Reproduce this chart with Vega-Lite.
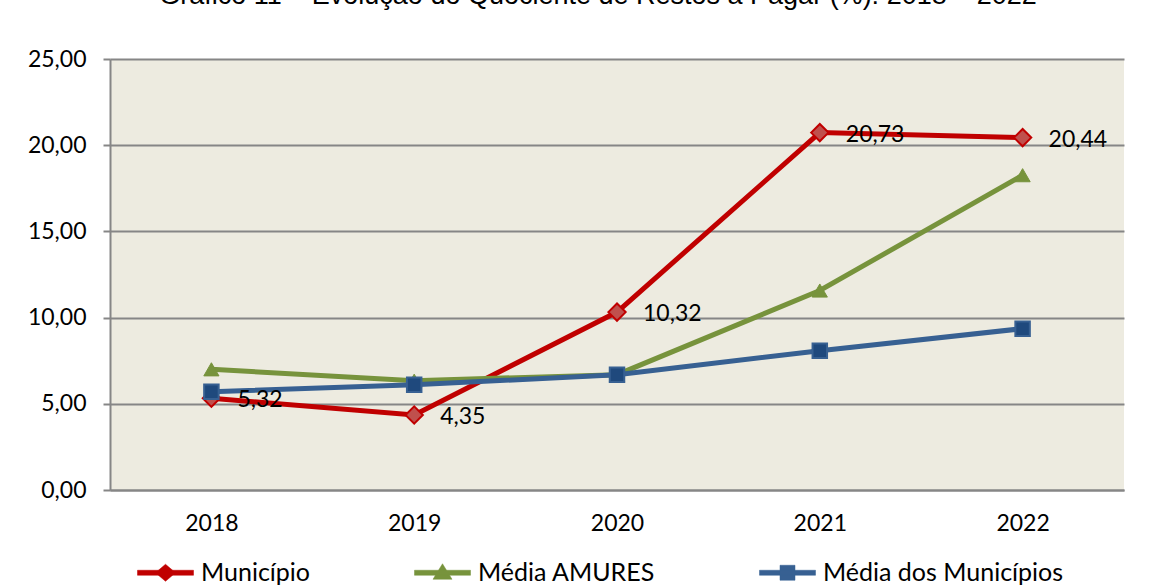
{
  "$schema": "https://vega.github.io/schema/vega-lite/v6.json",
  "width": 1014,
  "height": 431,
  "autosize": {"type": "none"},
  "padding": {"left": 110, "top": 59, "right": 46, "bottom": 98},
  "background": "white",
  "title": {
    "text": "Gráfico 11 – Evolução do Quociente de Restos a Pagar (%): 2018 – 2022",
    "font": "Liberation Sans",
    "fontSize": 27,
    "fontWeight": "normal",
    "color": "#000000",
    "anchor": "middle",
    "frame": "group",
    "baseline": "alphabetic",
    "offset": 17,
    "dx": -19
  },
  "data": {
    "values": [
      {"ano": "2018", "serie": "Município", "valor": 5.32},
      {"ano": "2019", "serie": "Município", "valor": 4.35},
      {"ano": "2020", "serie": "Município", "valor": 10.32},
      {"ano": "2021", "serie": "Município", "valor": 20.73},
      {"ano": "2022", "serie": "Município", "valor": 20.44},
      {"ano": "2018", "serie": "Média AMURES", "valor": 7.0},
      {"ano": "2019", "serie": "Média AMURES", "valor": 6.34},
      {"ano": "2020", "serie": "Média AMURES", "valor": 6.69},
      {"ano": "2021", "serie": "Média AMURES", "valor": 11.57},
      {"ano": "2022", "serie": "Média AMURES", "valor": 18.26},
      {"ano": "2018", "serie": "Média dos Municípios", "valor": 5.7},
      {"ano": "2019", "serie": "Média dos Municípios", "valor": 6.1},
      {"ano": "2020", "serie": "Média dos Municípios", "valor": 6.69},
      {"ano": "2021", "serie": "Média dos Municípios", "valor": 8.08},
      {"ano": "2022", "serie": "Média dos Municípios", "valor": 9.36}
    ]
  },
  "encoding": {
    "x": {
      "field": "ano",
      "type": "ordinal",
      "title": null,
      "axis": {
        "labelAngle": 0,
        "labelFont": "Lato",
        "labelFontSize": 23,
        "labelColor": "#000000",
        "labelPadding": 22,
        "ticks": false,
        "domainColor": "#868686",
        "domainWidth": 2
      }
    },
    "y": {
      "field": "valor",
      "type": "quantitative",
      "title": null,
      "scale": {"domain": [0, 25], "nice": false},
      "axis": {
        "values": [0, 5, 10, 15, 20, 25],
        "format": ".2f",
        "labelFont": "Lato",
        "labelFontSize": 23,
        "labelColor": "#000000",
        "labelPadding": 17,
        "tickSize": 7,
        "tickColor": "#868686",
        "tickWidth": 2,
        "domainColor": "#868686",
        "domainWidth": 2,
        "grid": true,
        "gridColor": "#868686",
        "gridWidth": 2
      }
    }
  },
  "layer": [
    {
      "mark": {"type": "line", "strokeWidth": 5},
      "encoding": {
        "color": {
          "field": "serie",
          "type": "nominal",
          "scale": {
            "domain": ["Município", "Média AMURES", "Média dos Municípios"],
            "range": ["#C00000", "#77933C", "#376092"]
          },
          "legend": {
            "title": null,
            "orient": "none",
            "legendX": 62,
            "legendY": 501,
            "direction": "horizontal",
            "labelFont": "Lato",
            "labelFontSize": 25,
            "labelColor": "#000000",
            "labelLimit": 0,
            "labelOffset": 4,
            "symbolSize": 400,
            "columnPadding": 102,
            "encode": {
              "symbols": {
                "update": {
                  "shape": {"signal": "datum.value === 'Município' ? 'M-4.7,-0.25L0.9,-0.25L0.9,0.25L-4.7,0.25Z M-1.9,-0.85L-0.9,0L-1.9,0.85L-2.9,0Z' : (datum.value === 'Média AMURES' ? 'M-4.7,-0.25L0.9,-0.25L0.9,0.25L-4.7,0.25Z M-1.9,-0.9L-0.95,0.65L-2.85,0.65Z' : 'M-4.7,-0.25L0.9,-0.25L0.9,0.25L-4.7,0.25Z M-2.65,-0.75L-1.15,-0.75L-1.15,0.75L-2.65,0.75Z')"},
                  "fill": {"signal": "scale('color', datum.value)"},
                  "stroke": {"signal": "scale('color', datum.value)"},
                  "strokeWidth": {"value": 0.5},
                  "opacity": {"value": 1}
                }
              }
            }
          }
        }
      }
    },
    {
      "transform": [{"filter": "datum.serie === 'Município'"}],
      "mark": {"type": "point", "shape": "diamond", "filled": true, "size": 300, "strokeWidth": 2, "opacity": 1, "fill": "#C0504D", "stroke": "#C00000"}
    },
    {
      "transform": [{"filter": "datum.serie === 'Média AMURES'"}],
      "mark": {"type": "point", "shape": "triangle-up", "filled": true, "size": 230, "strokeWidth": 1, "opacity": 1, "fill": "#77933C", "stroke": "#77933C"}
    },
    {
      "transform": [{"filter": "datum.serie === 'Média dos Municípios'"}],
      "mark": {"type": "point", "shape": "square", "filled": true, "size": 210, "strokeWidth": 2, "opacity": 1, "fill": "#1F497D", "stroke": "#376092"}
    },
    {
      "transform": [{"filter": "datum.serie === 'Município'"}],
      "mark": {
        "type": "text",
        "align": "left",
        "baseline": "middle",
        "dx": 26,
        "dy": 2,
        "font": "Lato",
        "fontSize": 23,
        "color": "#000000"
      },
      "encoding": {
        "text": {"field": "valor", "type": "quantitative", "format": ".2f"}
      }
    }
  ],
  "config": {
    "view": {"fill": "#EDEBE0", "stroke": null},
    "locale": {
      "number": {"decimal": ",", "thousands": ".", "grouping": [3], "currency": ["R$", ""]}
    }
  }
}
